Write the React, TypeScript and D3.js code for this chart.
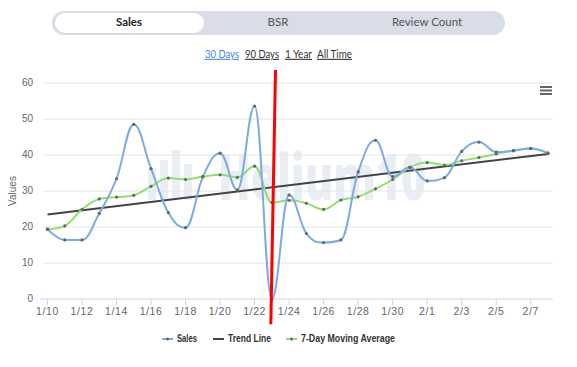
import React from "react";
import * as d3 from "d3";

const width = 577;
const height = 367;
const margin = { left: 43, right: 24, top: 83, bottom: 68 }; // plot box
const firstX = 47.5; // first category centre
const lastX = 548; // last category centre

// chart values
const dates = [
  "1/10", "1/11", "1/12", "1/13", "1/14", "1/15", "1/16", "1/17", "1/18", "1/19",
  "1/20", "1/21", "1/22", "1/23", "1/24", "1/25", "1/26", "1/27", "1/28", "1/29",
  "1/30", "1/31", "2/1", "2/2", "2/3", "2/4", "2/5", "2/6", "2/7", "2/8",
];
const sales = [
  19.4, 16.4, 16.4, 23.8, 33.4, 48.5, 36.2, 24.0, 19.8, 33.9,
  40.5, 30.3, 53.6, 0, 28.9, 18.2, 15.7, 16.4, 35.3, 44.1,
  34.0, 36.6, 32.8, 33.7, 41.0, 43.6, 40.8, 41.2, 41.8, 40.5,
];
const movingAvg = [
  19.4, 20.3, 24.9, 27.8, 28.3, 28.8, 31.3, 33.6, 33.2, 34.0,
  34.5, 33.8, 36.9, 26.8, 27.4, 26.6, 24.9, 27.5, 28.4, 30.6,
  33.2, 36.6, 37.9, 37.2, 38.4, 39.3, 40.3, 41.2, 41.8, 40.5,
];
const trendEnds = [23.5, 40.3]; // trend line value at first and last date
const yTicks = [0, 10, 20, 30, 40, 50, 60];
const tabs = ["Sales", "BSR", "Review Count"];
const ranges = ["30 Days", "90 Days", "1 Year", "All Time"];
const legendItems = ["Sales", "Trend Line", "7-Day Moving Average"];
// hand drawn red marker: [date index offset, value] top and bottom
const redMark = [
  [13.21, 63.6],
  [12.94, -7.0],
];

const colors = {
  sales: "#7eaae6",
  trend: "#434348",
  avg: "#90e070",
  grid: "#e6e6e6",
  axis: "#ccd6eb",
  label: "#666666",
};

const font = "'Liberation Sans', Arial, sans-serif";

// Highcharts-style spline through pixel points
const splinePath = (pts: [number, number][]): string => {
  const p = d3.path();
  const ctrl: { l: [number, number]; r: [number, number] }[] = pts.map((pt) => ({
    l: [pt[0], pt[1]],
    r: [pt[0], pt[1]],
  }));
  const smoothing = 1.5;
  const denom = smoothing + 1;
  for (let i = 1; i < pts.length - 1; i++) {
    const [x, y] = pts[i];
    const [lx, ly] = pts[i - 1];
    const [nx, ny] = pts[i + 1];
    const lcx = (smoothing * x + lx) / denom;
    let lcy = (smoothing * y + ly) / denom;
    const rcx = (smoothing * x + nx) / denom;
    let rcy = (smoothing * y + ny) / denom;
    if (rcx !== lcx) {
      const corr = ((rcy - lcy) * (rcx - x)) / (rcx - lcx) + y - rcy;
      lcy += corr;
      rcy += corr;
    }
    if (lcy > ly && lcy > y) {
      lcy = Math.max(ly, y);
      rcy = 2 * y - lcy;
    } else if (lcy < ly && lcy < y) {
      lcy = Math.min(ly, y);
      rcy = 2 * y - lcy;
    }
    if (rcy > ny && rcy > y) {
      rcy = Math.max(ny, y);
      lcy = 2 * y - rcy;
    } else if (rcy < ny && rcy < y) {
      rcy = Math.min(ny, y);
      lcy = 2 * y - rcy;
    }
    ctrl[i] = { l: [lcx, lcy], r: [rcx, rcy] };
  }
  p.moveTo(pts[0][0], pts[0][1]);
  for (let i = 1; i < pts.length; i++) {
    const a = ctrl[i - 1].r;
    const b = ctrl[i].l;
    p.bezierCurveTo(a[0], a[1], b[0], b[1], pts[i][0], pts[i][1]);
  }
  return p.toString();
};

const App = () => {
  const x = d3.scaleLinear().domain([0, dates.length - 1]).range([firstX, lastX]);
  const y = d3
    .scaleLinear()
    .domain([0, 60])
    .range([height - margin.bottom, margin.top]);
  const plotRight = width - margin.right;
  const xTickIdx = dates.map((_, i) => i).filter((i) => i % 2 === 0);

  const salesPts = sales.map((v, i) => [x(i), y(v)] as [number, number]);
  const avgPts = movingAvg.map((v, i) => [x(i), y(v)] as [number, number]);
  const trendLine = d3
    .line<number>()
    .x((_, i) => x(i * (dates.length - 1)))
    .y((d) => y(d));

  const legendX = [162, 213, 286];
  const legendW = [20, 43, 94];
  const legendCol = [colors.sales, colors.trend, colors.avg];
  const rangeX = [205, 245, 285, 317];
  const rangeW = [34, 34, 27, 35];
  const tabX = [129, 278, 427];

  return (
    <svg
      width={width}
      height={height}
      style={{ position: "absolute", left: 0, top: 0, background: "#fff" }}
    >
      {/* tabs */}
      <rect x={52} y={11} width={453} height={24} rx={12} fill="#d9dde7" />
      <rect x={55} y={13} width={149} height={20} rx={10} fill="#fff" />
      {tabs.map((t, i) => (
        <text
          key={t}
          x={tabX[i]}
          y={23}
          textAnchor="middle"
          dominantBaseline="middle"
          fontFamily="Lato, 'Open Sans', sans-serif"
          fontSize={11.5}
          fontWeight={i === 0 ? 700 : 400}
          fill={i === 0 ? "#222" : "#555"}
        >
          {t}
        </text>
      ))}
      {ranges.map((r, i) => (
        <text
          key={r}
          x={rangeX[i]}
          y={55}
          dominantBaseline="middle"
          fontFamily="Lato, 'Open Sans', sans-serif"
          fontSize={11}
          textLength={rangeW[i]}
          lengthAdjust="spacingAndGlyphs"
          textDecoration="underline"
          fill={i === 0 ? "#4a86e8" : "#333"}
        >
          {r}
        </text>
      ))}

      {/* watermark */}
      <g fill="#e9eef4">
        <rect x={148} y={168} width={8} height={32} />
        <rect x={160} y={160} width={8} height={40} />
        <rect x={172} y={150} width={8} height={50} />
        <rect x={184} y={164} width={8} height={36} />
        <text
          x={218}
          y={200}
          fontFamily="'Open Sans', sans-serif"
          fontWeight={800}
          fontSize={64}
          textLength={208}
          lengthAdjust="spacingAndGlyphs"
        >
          Helium10
        </text>
      </g>

      {/* grid */}
      {yTicks.map((t) => (
        <g key={t}>
          {t > 0 && (
            <line x1={margin.left} x2={plotRight} y1={y(t)} y2={y(t)} stroke={colors.grid} />
          )}
          <text
            x={33}
            y={y(t)}
            textAnchor="end"
            dominantBaseline="middle"
            fontFamily={font}
            fontSize={10}
            fill={colors.label}
          >
            {t}
          </text>
        </g>
      ))}
      <text
        transform={`translate(13, ${y(30)}) rotate(-90)`}
        textAnchor="middle"
        dominantBaseline="middle"
        fontFamily={font}
        fontSize={10}
        fill={colors.label}
      >
        Values
      </text>

      {/* x axis */}
      <line x1={40} x2={plotRight} y1={y(0)} y2={y(0)} stroke={colors.axis} />
      {xTickIdx.map((i) => (
        <g key={i}>
          <line x1={x(i)} x2={x(i)} y1={y(0)} y2={y(0) + 6} stroke={colors.axis} />
          <text
            x={x(i)}
            y={312}
            textAnchor="middle"
            dominantBaseline="middle"
            fontFamily={font}
            fontSize={10.5}
            letterSpacing={0.6}
            fill={colors.label}
          >
            {dates[i]}
          </text>
        </g>
      ))}

      {/* series */}
      <path d={trendLine(trendEnds) || ""} stroke={colors.trend} strokeWidth={2} fill="none" />
      <path d={splinePath(avgPts)} stroke={colors.avg} strokeWidth={2} fill="none" />
      <path d={splinePath(salesPts)} stroke={colors.sales} strokeWidth={2} fill="none" />
      {avgPts.map((p, i) => (
        <circle key={"a" + i} cx={p[0]} cy={p[1]} r={1.6} fill="#666" />
      ))}
      {salesPts.map((p, i) => (
        <circle key={"s" + i} cx={p[0]} cy={p[1]} r={1.6} fill="#666" />
      ))}

      {/* menu icon */}
      <g stroke="#666" strokeWidth={2}>
        {[0, 1, 2].map((k) => (
          <line key={k} x1={540} x2={552} y1={87 + k * 3.5} y2={87 + k * 3.5} />
        ))}
      </g>

      {/* red marker */}
      <line
        x1={x(redMark[0][0])}
        y1={y(redMark[0][1])}
        x2={x(redMark[1][0])}
        y2={y(redMark[1][1])}
        stroke="#ff0000"
        strokeWidth={3}
      />

      {/* legend */}
      {legendItems.map((l, i) => (
        <g key={l}>
          <line
            x1={legendX[i]}
            x2={legendX[i] + 11}
            y1={339}
            y2={339}
            stroke={legendCol[i]}
            strokeWidth={2}
          />
          {i !== 1 && <circle cx={legendX[i] + 5.5} cy={339} r={1.5} fill="#666" />}
          <text
            x={legendX[i] + 15}
            y={339}
            dominantBaseline="middle"
            fontFamily={font}
            fontSize={10}
            fontWeight={700}
            textLength={legendW[i]}
            lengthAdjust="spacingAndGlyphs"
            fill="#333"
          >
            {l}
          </text>
        </g>
      ))}
    </svg>
  );
};

export default App;
